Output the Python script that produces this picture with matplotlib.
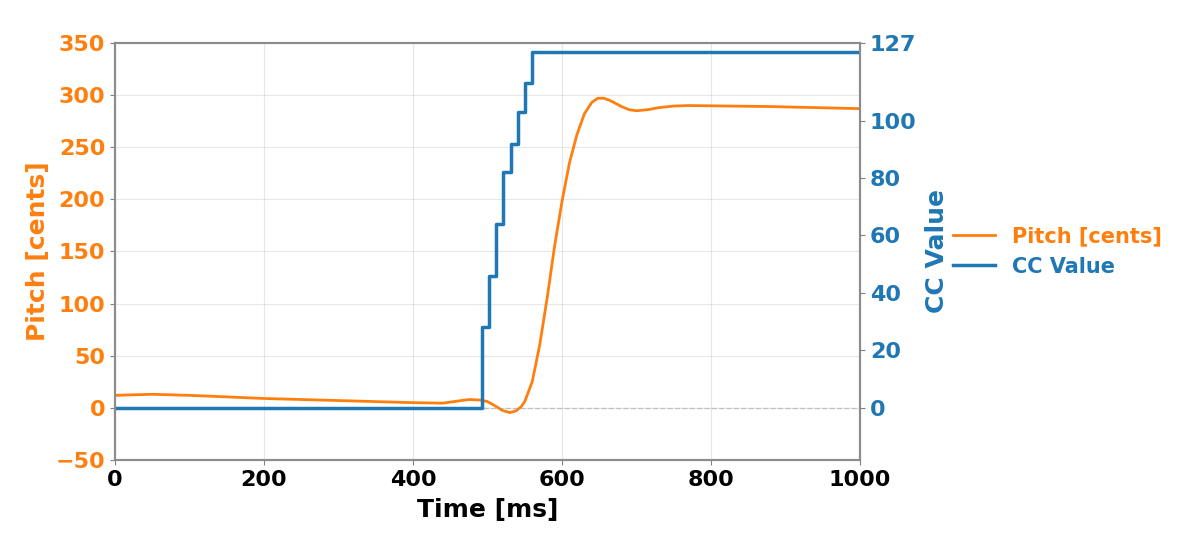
import matplotlib
matplotlib.use("Agg")
import matplotlib.pyplot as plt

# pitch curve (ms, cents)
t_pitch = [0, 50, 100, 200, 300, 400, 440, 460, 475, 490, 500, 510, 520, 530,
           538, 545, 550, 560, 570, 580, 590, 600, 610, 620, 630, 640, 648,
           656, 664, 672, 680, 690, 700, 715, 730, 750, 770, 880, 1000]
pitch = [12, 13, 12, 9, 7, 5, 4.5, 6.5, 8, 7.5, 6, 2, -2.5, -4.5,
         -3, 1, 6, 25, 60, 105, 155, 198, 235, 262, 282, 293, 297,
         297, 295, 292, 289, 286, 285, 286, 288, 289.5, 290, 289, 287]

# CC steps
t_cc = [0, 492, 502, 511, 521, 531, 541, 550, 560, 1000]
cc = [0, 28, 46, 64, 82, 92, 103, 113, 124, 124]

c_pitch = "#ff7f0e"
c_cc = "#1f77b4"

fig = plt.figure(figsize=(12, 5.56), dpi=100)
ax1 = fig.add_axes([0.0958, 0.1727, 0.6209, 0.75])
ax2 = ax1.twinx()

l1, = ax1.plot(t_pitch, pitch, color=c_pitch, linewidth=2, label="Pitch [cents]")
l2, = ax2.plot(t_cc, cc, color=c_cc, linewidth=2.5, drawstyle="steps-post",
               label="CC Value")
ax1.axhline(0, color="0.6", linestyle="--", linewidth=1, alpha=0.5)

ax1.set_xlim(0, 1000)
ax1.set_ylim(-50, 350)
ax2.set_ylim(-127 * 50 / 350, 127)
ax1.set_xticks([0, 200, 400, 600, 800, 1000])
ax1.set_yticks(range(-50, 351, 50))
ax2.set_yticks([0, 20, 40, 60, 80, 100, 127])

ax1.grid(alpha=0.3)

ax1.set_xlabel("Time [ms]", fontsize=18, fontweight="bold", labelpad=6)
ax1.set_ylabel("Pitch [cents]", fontsize=18, fontweight="bold", color=c_pitch)
ax2.set_ylabel("CC Value", fontsize=18, fontweight="bold", color=c_cc, labelpad=6)

for lab in ax1.get_xticklabels():
    lab.set_fontweight("bold")
for lab in ax1.get_yticklabels():
    lab.set_fontweight("bold")
for lab in ax2.get_yticklabels():
    lab.set_fontweight("bold")
ax1.tick_params(axis="x", labelsize=16, colors="0.5", labelcolor="black")
ax1.tick_params(axis="y", labelsize=16, colors="0.5", labelcolor=c_pitch)
ax2.tick_params(axis="y", labelsize=16, colors="0.5", labelcolor=c_cc)

for ax in (ax1, ax2):
    for sp in ax.spines.values():
        sp.set_color("0.55")
        sp.set_linewidth(1.5)

leg = ax1.legend(handles=[l1, l2], loc="center left", bbox_to_anchor=(1.10, 0.5),
                 frameon=False, handlelength=2.0,
                 prop={"weight": "bold", "size": 15})
for txt, c in zip(leg.get_texts(), [c_pitch, c_cc]):
    txt.set_color(c)

fig.savefig("out.png")
